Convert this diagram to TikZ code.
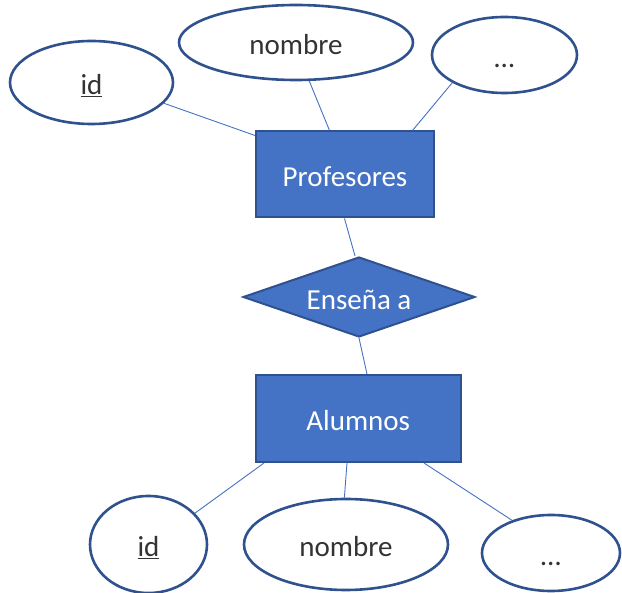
\documentclass[tikz,border=0pt]{standalone}
\usepackage{fontspec}
\setmainfont{Carlito}
\usetikzlibrary{shapes.geometric,calc}
\definecolor{ofblue}{HTML}{4472C4}
\definecolor{ofedge}{HTML}{2F528F}
\definecolor{txtgray}{HTML}{333333}
\begin{document}
\begin{tikzpicture}[x=1pt,y=-1pt,
  lbl/.style={inner sep=0pt, text height=26pt, text depth=1pt, font=\fontsize{29}{31}\selectfont},
  attr/.style={lbl, ellipse, draw=ofedge, line width=2.6pt, fill=white, text=txtgray},
  ent/.style={lbl, rectangle, draw=ofedge, line width=2pt, fill=ofblue, text=white},
  rel/.style={lbl, diamond, aspect=2.9, draw=ofedge, line width=2pt, fill=ofblue, text=white},
  conn/.style={draw=ofblue, line width=0.9pt}]
\useasboundingbox (0,0) rectangle (622,593);
% top attributes
\node[attr, minimum width=163pt, minimum height=83pt] (idp) at (91.5,82.5) {\underline{id}};
\node[attr, minimum width=234pt, minimum height=75pt] (nmp) at (296,42.5) {nombre};
\node[attr, minimum width=145pt, minimum height=76pt] (dtp) at (504.5,55) {…};
% entities and relation
\node[ent, minimum width=178pt, minimum height=86pt] (pro) at (345,174.5) {Profesores};
\node[rel, minimum width=232pt, minimum height=80pt] (ens) at (359,297) {Enseña a};
\node[ent, minimum width=205.5pt, minimum height=87pt] (alu) at (358.25,418.5) {Alumnos};
% bottom attributes
\node[attr, minimum width=117pt, minimum height=97pt] (ida) at (148.5,544.5) {\underline{id}};
\node[attr, minimum width=204pt, minimum height=91pt] (nma) at (346,544.5) {nombre};
\node[attr, minimum width=138pt, minimum height=76pt] (dta) at (551,553) {…};
% connectors
\draw[conn] (idp.-16.5) -- ($(pro.north west)+(0,5)$);
\draw[conn] (nmp.-71) -- ($(pro.north west)+(74.5,0)$);
\draw[conn] (dtp.208) -- ($(pro.north west)+(157.5,0)$);
\draw[conn] ($(pro.south west)+(89.5,0)$) -- ($(ens.north)+(-4,0)$);
\draw[conn] (ens.south) -- ($(alu.north west)+(112.5,0)$);
\draw[conn] ($(alu.south west)+(9.5,0)$) -- (ida.34);
\draw[conn] ($(alu.south west)+(92.5,0)$) -- (nma.92);
\draw[conn] ($(alu.south west)+(169.5,0)$) -- (dta.140);
\end{tikzpicture}
\end{document}
